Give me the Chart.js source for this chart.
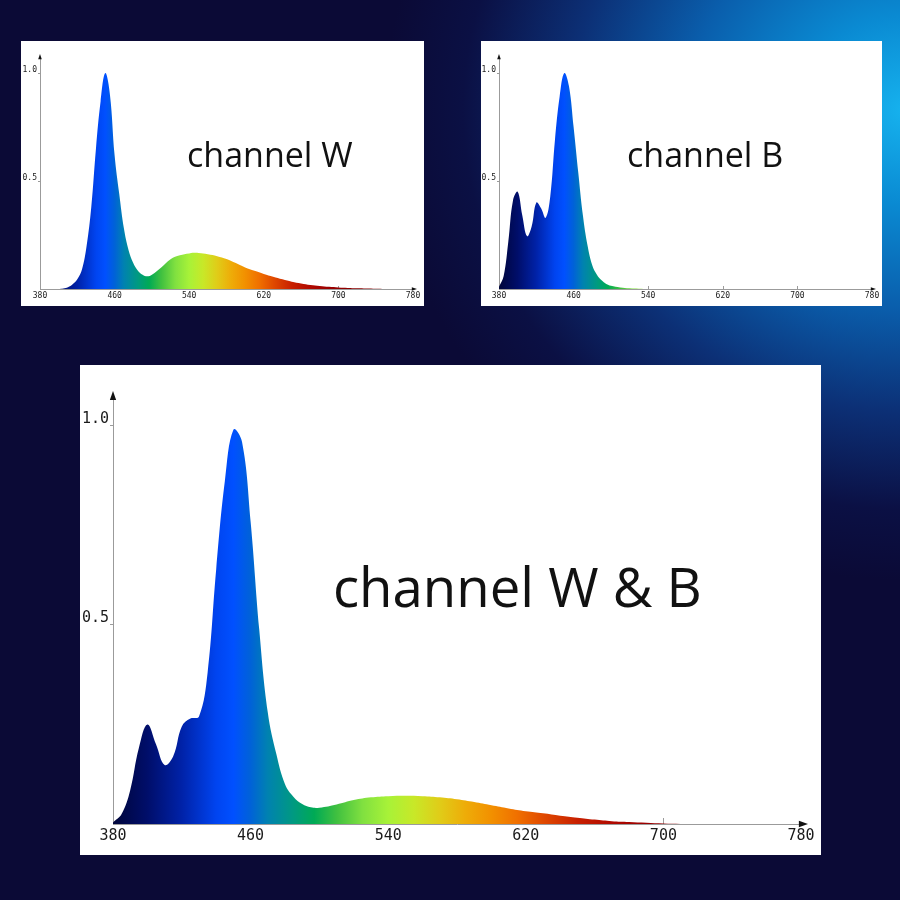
<!DOCTYPE html>
<html>
<head>
<meta charset="utf-8">
<script src="https://cdn.jsdelivr.net/npm/chart.js@4.4.1/dist/chart.umd.min.js"></script>
<style>
html, body { margin: 0; padding: 0; }
body {
  width: 900px; height: 900px; overflow: hidden; position: relative;
  background-color: #0b0a36;
  background-image: radial-gradient(ellipse 520px 470px at 905px 110px, #16b2ee 0%, #0a8ad2 20%, #0a5eac 42%, #0c3076 64%, #0b1044 85%, #0b0a36 100%);
}
canvas { position: absolute; background: #fff; }
</style>
</head>
<body>
<canvas id="chartW" width="403" height="265" style="left:21px;top:41px"></canvas>
<canvas id="chartB" width="401" height="265" style="left:481px;top:41px"></canvas>
<canvas id="chartWB" width="741" height="490" style="left:80px;top:365px"></canvas>
<script>
// wavelength in nm, relative intensity
var wavelengths = [380, 385, 390, 395, 400, 405, 410, 415, 420, 425, 430, 435, 440, 445, 450, 455, 460, 465, 470, 475, 480, 485, 490, 495, 500,
  510, 520, 530, 540, 550, 560, 570, 580, 590, 600, 610, 620, 630, 640, 650, 660, 670, 680, 690, 700, 710, 720, 730, 740, 750, 760, 780];

var channelW = [0, 0, 0, 0, 0, 0.002, 0.008, 0.022, 0.045, 0.09, 0.2, 0.38, 0.65, 0.87, 1.0, 0.9, 0.62, 0.44, 0.28, 0.18, 0.12, 0.085, 0.066, 0.059, 0.066,
  0.1, 0.138, 0.156, 0.165, 0.167, 0.161, 0.152, 0.139, 0.12, 0.1, 0.084, 0.07, 0.057, 0.045, 0.034, 0.026, 0.019, 0.014, 0.01, 0.007, 0.005, 0.003, 0.002, 0.001, 0, 0, 0];

var channelB = [0.01, 0.06, 0.22, 0.41, 0.45, 0.34, 0.245, 0.29, 0.4, 0.375, 0.33, 0.43, 0.69, 0.89, 1.0, 0.94, 0.75, 0.54, 0.34, 0.2, 0.11, 0.066, 0.04, 0.023, 0.015,
  0.007, 0.003, 0.001, 0, 0, 0, 0, 0, 0, 0, 0, 0, 0, 0, 0, 0, 0, 0, 0, 0, 0, 0, 0, 0, 0, 0, 0];

var channelWB = [0.004, 0.025, 0.085, 0.19, 0.25, 0.2, 0.148, 0.17, 0.245, 0.265, 0.27, 0.38, 0.64, 0.86, 0.99, 0.96, 0.76, 0.49, 0.28, 0.175, 0.1, 0.068, 0.05, 0.042, 0.041,
  0.049, 0.06, 0.067, 0.07, 0.071, 0.07, 0.067, 0.062, 0.055, 0.047, 0.039, 0.032, 0.027, 0.021, 0.016, 0.011, 0.007, 0.005, 0.003, 0.001, 0, 0, 0, 0, 0, 0, 0];

var xTicks = [380, 460, 540, 620, 700, 780];
var yTicks = [0.5, 1.0];

// colour of the fill along the spectrum
var gradientNm = [380, 400, 420, 440, 450, 460, 470, 485, 497, 510, 525, 540, 555, 570, 585, 600, 615, 630, 650, 670, 690, 720, 780];
var gradientColors = ['#00053a', '#000e6a', '#0022a8', '#0044f0', '#0050ff', '#0062d8', '#0082b0', '#009a80', '#00aa55', '#40c040', '#80e040', '#a8f238',
  '#c8e828', '#e0cc18', '#eeac08', '#f29000', '#f07000', '#e04a00', '#c82000', '#b00a00', '#9a0000', '#880000', '#800000'];

function spectrumFill(chart) {
  var a = chart.chartArea;
  if (!a) return '#0050ff';
  var x = chart.scales.x;
  var x0 = x.getPixelForValue(380), x1 = x.getPixelForValue(780);
  var g = chart.ctx.createLinearGradient(x0, 0, x1, 0);
  for (var i = 0; i < gradientNm.length; i++) {
    g.addColorStop((gradientNm[i] - 380) / 400, gradientColors[i]);
  }
  return g;
}

var axisArrows = {
  id: 'axisArrows',
  beforeDatasetsDraw: function(chart, args, o) {
    var ctx = chart.ctx, x = chart.scales.x, a = chart.chartArea;
    ctx.save();
    ctx.strokeStyle = '#9b9b9b';
    ctx.lineWidth = 1;
    xTicks.forEach(function(v) {
      if (v === 380 || v === 780) return;
      var px = Math.round(x.getPixelForValue(v)) + 0.5;
      ctx.beginPath();
      ctx.moveTo(px, a.bottom);
      ctx.lineTo(px, a.bottom - o.tick);
      ctx.stroke();
    });
    ctx.restore();
  },
  afterDraw: function(chart, args, o) {
    var ctx = chart.ctx, a = chart.chartArea, s = o.size;
    ctx.save();
    ctx.fillStyle = '#111';
    ctx.beginPath();
    ctx.moveTo(a.left, a.top - s);
    ctx.lineTo(a.left - s * 0.45, a.top + s * 0.3);
    ctx.lineTo(a.left + s * 0.45, a.top + s * 0.3);
    ctx.fill();
    ctx.beginPath();
    ctx.moveTo(a.right + s, a.bottom);
    ctx.lineTo(a.right - s * 0.3, a.bottom - s * 0.45);
    ctx.lineTo(a.right - s * 0.3, a.bottom + s * 0.45);
    ctx.fill();
    ctx.restore();
  }
};

var caption = {
  id: 'caption',
  afterDraw: function(chart, args, o) {
    var ctx = chart.ctx;
    ctx.save();
    ctx.fillStyle = '#111';
    ctx.font = o.size + 'px "Open Sans"';
    ctx.textAlign = 'left';
    ctx.textBaseline = 'alphabetic';
    ctx.fillText(o.text, o.x, o.y);
    ctx.restore();
  }
};

function makeChart(id, values, opt) {
  return new Chart(document.getElementById(id), {
    type: 'line',
    data: {
      datasets: [{
        data: wavelengths.map(function(w, i) { return { x: w, y: values[i] }; }),
        fill: 'origin',
        borderWidth: 0,
        borderColor: 'rgba(0,0,0,0)',
        pointRadius: 0,
        tension: 0.4,
        backgroundColor: function(c) { return spectrumFill(c.chart); }
      }]
    },
    options: {
      responsive: false,
      animation: false,
      layout: { padding: { left: 0, top: opt.top, right: opt.right, bottom: 0 } },
      plugins: {
        legend: { display: false },
        tooltip: { enabled: false },
        axisArrows: { size: opt.arrow, tick: opt.tick },
        caption: { text: opt.text, x: opt.tx, y: opt.ty, size: opt.ts }
      },
      scales: {
        x: {
          type: 'linear', min: 380, max: 780,
          afterBuildTicks: function(s) { s.ticks = xTicks.map(function(v) { return { value: v }; }); },
          afterFit: function(s) { s.height = opt.xh; },
          border: { color: '#9b9b9b' },
          grid: { drawOnChartArea: false, drawTicks: false },
          ticks: {
            autoSkip: false, maxRotation: 0, padding: opt.xpad, color: '#1a1a1a',
            font: { family: 'DejaVu Sans Mono', size: opt.fs }
          }
        },
        y: {
          min: 0, max: 1.07,
          afterBuildTicks: function(s) { s.ticks = yTicks.map(function(v) { return { value: v }; }); },
          afterFit: function(s) { s.width = opt.yw; },
          border: { color: '#9b9b9b' },
          grid: { drawOnChartArea: false, tickLength: opt.ytl, color: '#9b9b9b' },
          ticks: {
            padding: 1, color: '#1a1a1a', labelOffset: opt.lo,
            font: { family: 'DejaVu Sans Mono', size: opt.fs },
            callback: function(v) { return v.toFixed(1); }
          }
        }
      }
    },
    plugins: [axisArrows, caption]
  });
}

makeChart('chartW', channelW, { top: 17, right: 11, xh: 17, yw: 19, fs: 8, xpad: 2, ytl: 2, lo: -3, arrow: 4, tick: 3,
  text: 'channel W', tx: 166, ty: 126, ts: 34 });
makeChart('chartB', channelB, { top: 17, right: 10, xh: 17, yw: 18, fs: 8, xpad: 2, ytl: 2, lo: -3, arrow: 4, tick: 3,
  text: 'channel B', tx: 146, ty: 126, ts: 34 });
makeChart('chartWB', channelWB, { top: 33, right: 20, xh: 31, yw: 33, fs: 15, xpad: 3, ytl: 3, lo: -7, arrow: 7, tick: 6,
  text: 'channel W & B', tx: 253, ty: 242, ts: 54.5 });
</script>
</body>
</html>
